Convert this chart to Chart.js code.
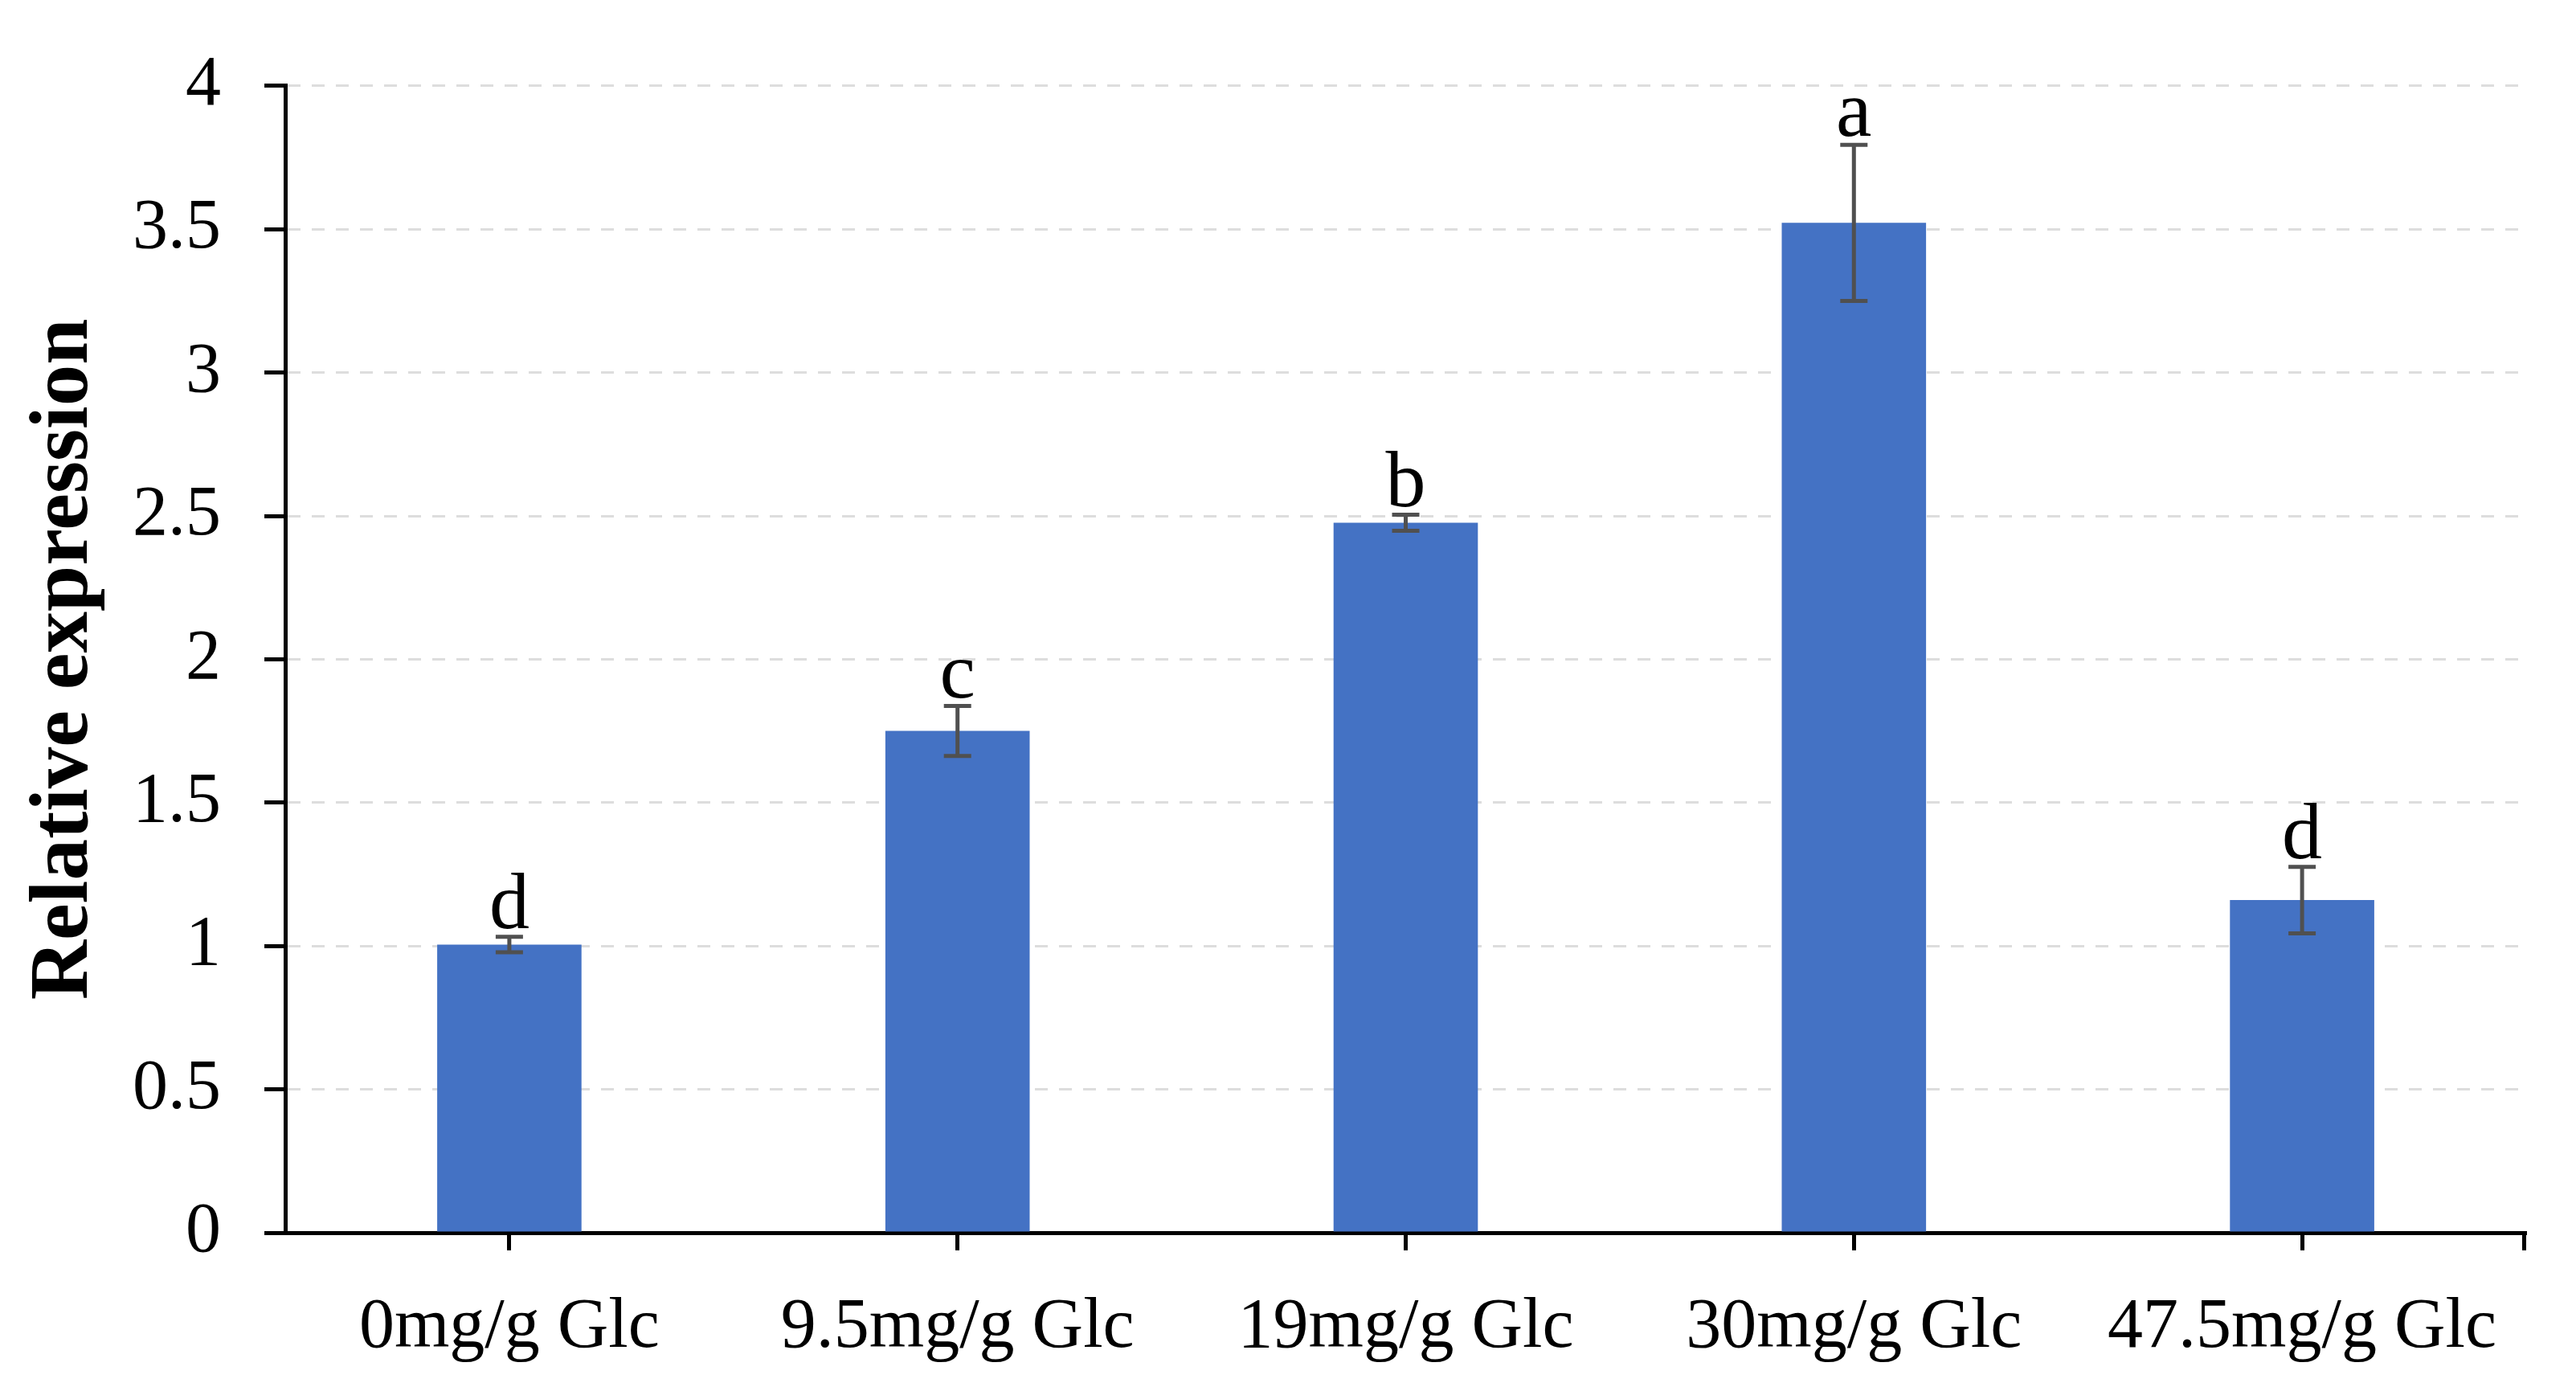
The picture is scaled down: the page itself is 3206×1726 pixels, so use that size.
<!DOCTYPE html>
<html>
<head>
<meta charset="utf-8">
<script src="https://cdn.jsdelivr.net/npm/chart.js@4.4.1/dist/chart.umd.min.js"></script>
<style>
  html, body { margin: 0; padding: 0; background: #ffffff; }
  #wrap { width: 3206px; height: 1726px; }
</style>
</head>
<body>
<div id="wrap"><canvas id="c" width="3206" height="1726" style="width:3206px;height:1726px;"></canvas></div>
<script>
// ---- data ----
const categories = ["0mg/g Glc", "9.5mg/g Glc", "19mg/g Glc", "30mg/g Glc", "47.5mg/g Glc"];
const values = [1.005, 1.75, 2.476, 3.522, 1.16];
const errors = [0.027, 0.087, 0.028, 0.272, 0.116];
const letters = ["d", "c", "b", "a", "d"];
const yTickLabels = ["0", "0.5", "1", "1.5", "2", "2.5", "3", "3.5", "4"];
const yTitle = "Relative expression";

const SERIF = "'Liberation Serif', 'Times New Roman', serif";

const errorBarPlugin = {
  id: 'errorBars',
  afterDatasetsDraw(chart) {
    const ctx = chart.ctx;
    const meta = chart.getDatasetMeta(0);
    const y = chart.scales.y;
    ctx.save();
    meta.data.forEach((bar, i) => {
      const x = bar.x;
      const yTop = y.getPixelForValue(values[i] + errors[i]);
      const yBot = y.getPixelForValue(values[i] - errors[i]);
      ctx.strokeStyle = '#505050';
      ctx.lineWidth = 5;
      ctx.beginPath();
      ctx.moveTo(x, yTop); ctx.lineTo(x, yBot);
      ctx.moveTo(x - 17, yTop); ctx.lineTo(x + 17, yTop);
      ctx.moveTo(x - 17, yBot); ctx.lineTo(x + 17, yBot);
      ctx.stroke();
      ctx.fillStyle = '#000000';
      ctx.font = "100px " + SERIF;
      ctx.textAlign = 'center';
      ctx.textBaseline = 'alphabetic';
      ctx.fillText(letters[i], x, yTop - 11);
    });
    // closing tick at right end of the category axis
    const xs = chart.scales.x;
    ctx.strokeStyle = '#000000';
    ctx.lineWidth = 5;
    ctx.beginPath();
    ctx.moveTo(xs.right - 2.5, xs.top);
    ctx.lineTo(xs.right - 2.5, xs.top + 22);
    ctx.stroke();
    ctx.restore();
  }
};

new Chart(document.getElementById('c'), {
  type: 'bar',
  data: {
    labels: categories,
    datasets: [{
      data: values,
      backgroundColor: '#4472C4',
      borderWidth: 0,
      barPercentage: 0.322,
      categoryPercentage: 1.0
    }]
  },
  options: {
    responsive: false,
    animation: false,
    devicePixelRatio: 1,
    layout: { padding: { left: 0, right: 62, top: 85, bottom: 0 } },
    plugins: { legend: { display: false }, tooltip: { enabled: false } },
    scales: {
      x: {
        offset: true,
        afterFit(scale) { scale.height = 192; },
        grid: {
          display: true,
          drawOnChartArea: false,
          offset: false,
          tickLength: 22,
          tickWidth: 5,
          tickColor: '#000000'
        },
        border: { display: true, color: '#000000', width: 5 },
        ticks: {
          color: '#000000',
          padding: 44,
          maxRotation: 0,
          autoSkip: false,
          font: { family: SERIF, size: 88 }
        }
      },
      y: {
        min: 0,
        max: 4,
        afterFit(scale) { scale.width = 355; },
        grid: {
          color: '#dddddd',
          lineWidth: 3,
          tickLength: 26,
          tickWidth: 5,
          tickColor: '#000000',
          tickBorderDash: []
        },
        border: { display: true, color: '#000000', width: 5, dash: [16, 14] },
        ticks: {
          stepSize: 0.5,
          color: '#000000',
          padding: 54,
          font: { family: SERIF, size: 88 },
          callback: (v, i) => yTickLabels[i]
        },
        title: {
          display: true,
          text: yTitle,
          color: '#000000',
          padding: { top: 20, bottom: 0 },
          font: { family: SERIF, size: 103, weight: 'bold' }
        }
      }
    }
  },
  plugins: [errorBarPlugin]
});
</script>
</body>
</html>
